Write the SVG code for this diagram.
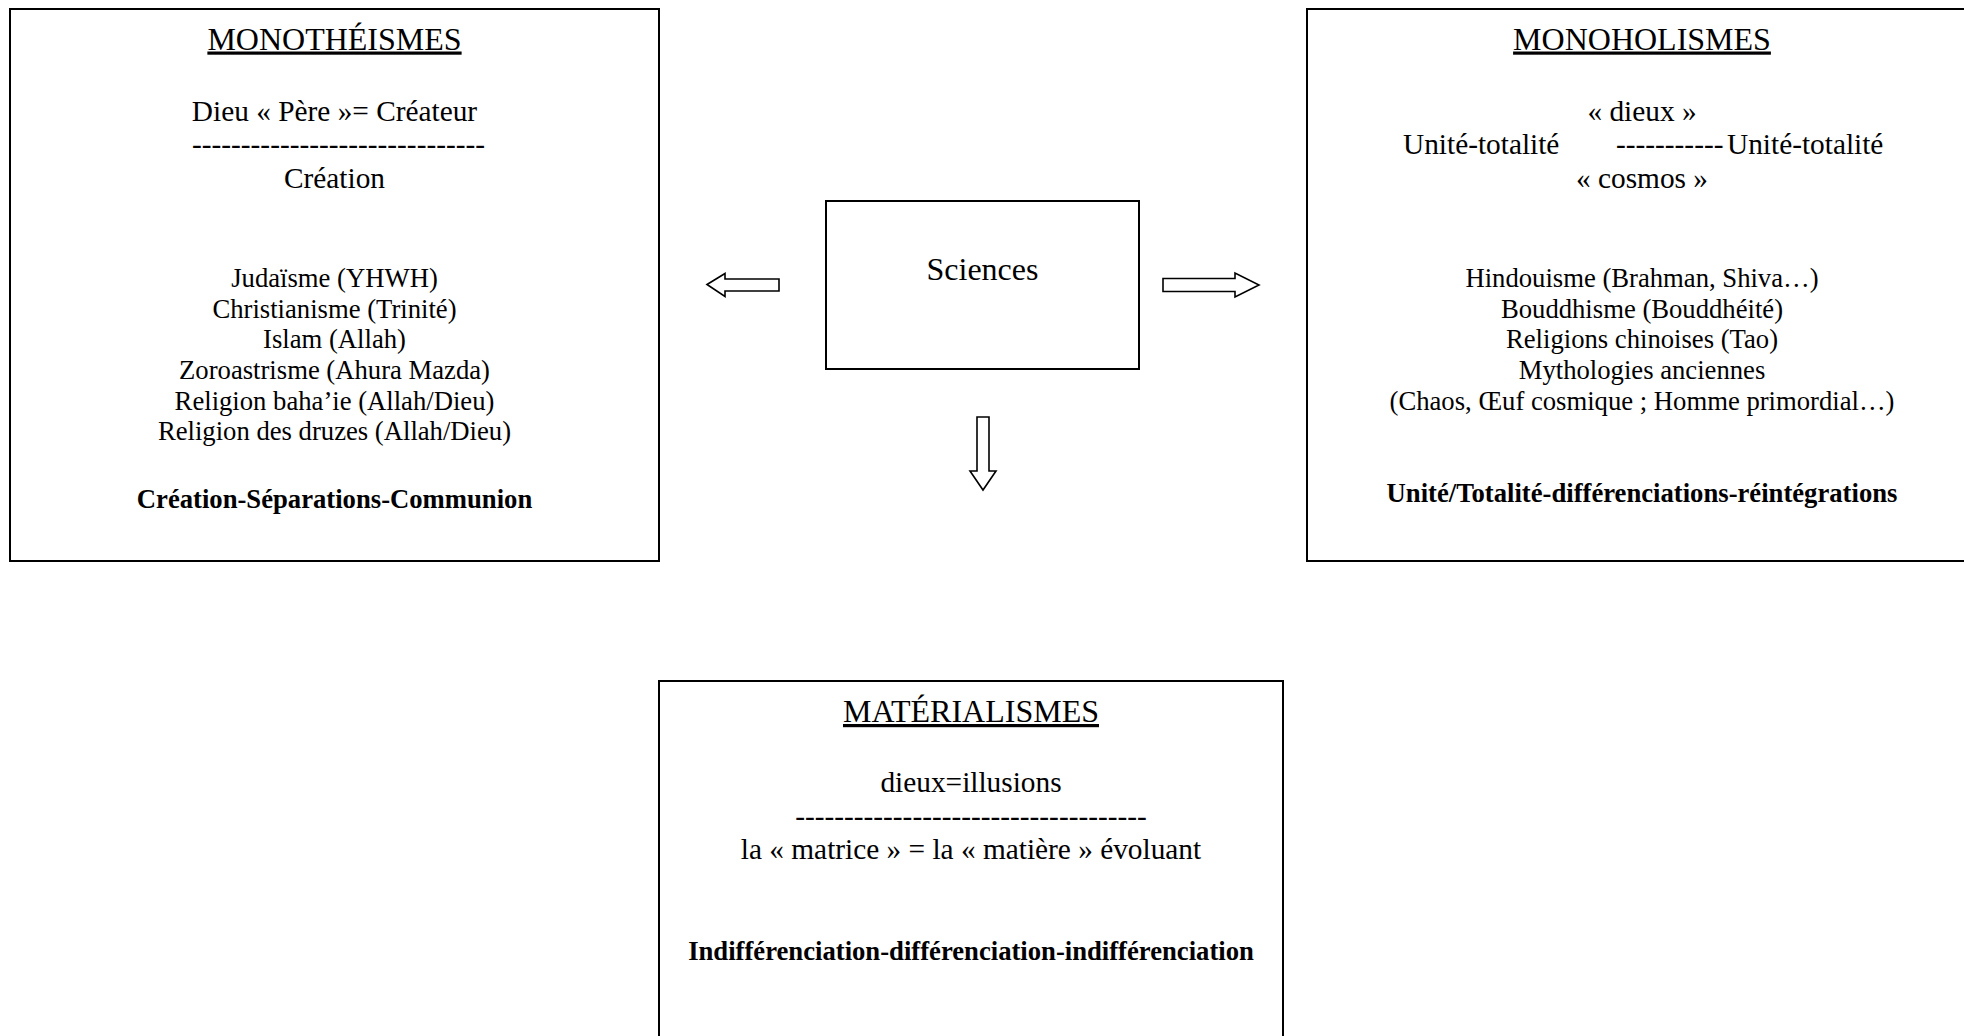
<svg xmlns="http://www.w3.org/2000/svg" width="1964" height="1036" viewBox="0 0 1964 1036">
<style>
  text { font-family: "Liberation Serif", "Times New Roman", serif; fill: #000; text-anchor: middle; }
  .title { font-size: 32px; text-decoration: underline; }
  .sub { font-size: 29.33px; }
  .item { font-size: 26.67px; }
  .bold { font-size: 26.67px; font-weight: bold; }
  .sci { font-size: 32px; }
  .box { fill: #fff; stroke: #000; stroke-width: 2; }
  .arrow { fill: #fff; stroke: #000; stroke-width: 1.6; stroke-linejoin: miter; }
</style>
<rect width="1964" height="1036" fill="#fff"/>

<g id="monotheismes">
  <rect class="box" x="10" y="9" width="649" height="552"/>
  <text class="title" x="334.5" y="49.5">MONOTHÉISMES</text>
  <text class="sub" x="334.5" y="120.5">Dieu « Père »= Créateur</text>
  <text class="sub" x="338.5" y="154">------------------------------</text>
  <text class="sub" x="334.5" y="188">Création</text>
  <text class="item" x="334.5" y="287">Judaïsme (YHWH)</text>
  <text class="item" x="334.5" y="317.7">Christianisme (Trinité)</text>
  <text class="item" x="334.5" y="348.4">Islam (Allah)</text>
  <text class="item" x="334.5" y="379">Zoroastrisme (Ahura Mazda)</text>
  <text class="item" x="334.5" y="409.7">Religion baha’ie (Allah/Dieu)</text>
  <text class="item" x="334.5" y="440.4">Religion des druzes (Allah/Dieu)</text>
  <text class="bold" x="334.5" y="508">Création-Séparations-Communion</text>
</g>

<g id="monoholismes">
  <rect class="box" x="1307" y="9" width="670" height="552"/>
  <text class="title" x="1642" y="49.5">MONOHOLISMES</text>
  <text class="sub" x="1642" y="120.5">« dieux »</text>
  <text class="sub" style="text-anchor:start"><tspan x="1403" y="154">Unité-totalité</tspan><tspan x="1616" y="154">-----------</tspan><tspan x="1727" y="154">Unité-totalité</tspan></text>
  <text class="sub" x="1642" y="188">« cosmos »</text>
  <text class="item" x="1642" y="287">Hindouisme (Brahman, Shiva…)</text>
  <text class="item" x="1642" y="317.7">Bouddhisme (Bouddhéité)</text>
  <text class="item" x="1642" y="348.4">Religions chinoises (Tao)</text>
  <text class="item" x="1642" y="379">Mythologies anciennes</text>
  <text class="item" x="1642" y="409.7">(Chaos, Œuf cosmique ; Homme primordial…)</text>
  <text class="bold" x="1642" y="502">Unité/Totalité-différenciations-réintégrations</text>
</g>

<g id="sciences">
  <rect class="box" x="826" y="201" width="313" height="168"/>
  <text class="sci" x="982.5" y="280">Sciences</text>
</g>

<g id="materialismes">
  <rect class="box" x="659" y="681" width="624" height="380"/>
  <text class="title" x="971" y="722">MATÉRIALISMES</text>
  <text class="sub" x="971" y="792">dieux=illusions</text>
  <text class="sub" x="971" y="825.5">------------------------------------</text>
  <text class="sub" x="971" y="859">la « matrice » = la « matière » évoluant</text>
  <text class="bold" x="971" y="959.5">Indifférenciation-différenciation-indifférenciation</text>
</g>

<g id="connectors">
  <polygon class="arrow" points="707,284.5 725,273.5 725,279 779,279 779,291 725,291 725,296.5"/>
  <polygon class="arrow" points="1163,278.5 1235,278.5 1235,273 1259,285 1235,297 1235,291.5 1163,291.5"/>
  <polygon class="arrow" points="977,417 989,417 989,471 996,471 983,490 970,471 977,471"/>
</g>
</svg>
